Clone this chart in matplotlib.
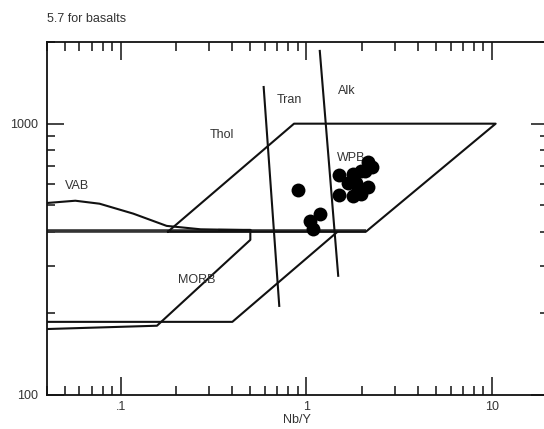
import matplotlib
matplotlib.use("Agg")
import matplotlib.pyplot as plt
from matplotlib.ticker import FixedLocator, FixedFormatter, LogLocator, NullFormatter

plt.rcParams["font.family"] = ["Liberation Sans", "DejaVu Sans"]
plt.rcParams["font.size"] = 9

# Nb/Y vs Ti/Y discrimination fields
wpb_x = [0.18, 0.86, 10.5, 2.1, 0.18]
wpb_y = [400, 1000, 1000, 400, 400]

base_x = [0.04, 2.1]
base_y = [402, 402]

vab_x = [0.04, 0.057, 0.077, 0.117, 0.177, 0.27, 0.5]
vab_y = [510, 520, 507, 466, 420, 408, 405]

morb_outer_x = [0.04, 0.157, 0.50, 0.50, 0.34]
morb_outer_y = [175, 180, 373, 406, 406]

morb_inner_x = [0.04, 0.40, 1.465]
morb_inner_y = [186, 186, 398]

thol_tran_x = [0.59, 0.716]
thol_tran_y = [1365, 213]

tran_alk_x = [1.184, 1.488]
tran_alk_y = [1854, 275]

# samples
nb_y = [0.908, 1.193, 1.048, 1.087, 1.511, 1.511, 1.786, 1.972, 2.165,
        2.262, 2.073, 1.865, 1.797, 1.985, 2.165, 1.912, 1.679]
ti_y = [571, 466, 439, 408, 646, 545, 654, 671, 724,
        694, 668, 603, 540, 550, 586, 580, 606]

field_labels = ["Tran", "Alk", "Thol", "VAB", "MORB", "WPB"]
label_x = [0.814, 1.658, 0.352, 0.0584, 0.257, 1.758]
label_y = [1219, 1324, 908, 587, 266, 747]

x_ticks = [0.1, 1, 10]
x_ticklabels = [".1", "1", "10"]
y_ticks = [100, 1000]
y_ticklabels = ["100", "1000"]

fig = plt.figure(figsize=(5.44, 4.29), dpi=100)
ax = fig.add_axes([0.086, 0.0793, 0.9206, 0.8228])
ax.set_xscale("log")
ax.set_yscale("log")
ax.set_xlim(0.04, 20)
ax.set_ylim(100, 2000)

lc = "#111111"
ax.plot(base_x, base_y, color="#333333", lw=2.6, solid_capstyle="butt")
ax.plot(wpb_x, wpb_y, color=lc, lw=1.5)
ax.plot(vab_x, vab_y, color=lc, lw=1.5)
ax.plot(morb_outer_x, morb_outer_y, color=lc, lw=1.5)
ax.plot(morb_inner_x, morb_inner_y, color=lc, lw=1.5)
ax.plot(thol_tran_x, thol_tran_y, color=lc, lw=1.5)
ax.plot(tran_alk_x, tran_alk_y, color=lc, lw=1.5)

for name, lx, ly in zip(field_labels, label_x, label_y):
    ax.text(lx, ly, name, ha="center", va="center", color="#333333", fontsize=9)

ax.scatter(nb_y, ti_y, s=100, color="black", zorder=5, linewidths=0)

ax.xaxis.set_major_locator(FixedLocator(x_ticks))
ax.xaxis.set_major_formatter(FixedFormatter(x_ticklabels))
ax.xaxis.set_minor_locator(LogLocator(base=10, subs=range(2, 10)))
ax.xaxis.set_minor_formatter(NullFormatter())
ax.yaxis.set_major_locator(FixedLocator(y_ticks))
ax.yaxis.set_major_formatter(FixedFormatter(y_ticklabels))
ax.yaxis.set_minor_locator(LogLocator(base=10, subs=range(2, 10)))
ax.yaxis.set_minor_formatter(NullFormatter())

ax.tick_params(axis="x", which="major", direction="in", length=13, width=1.1,
               top=True, pad=4, colors="#111111", labelcolor="#333333")
ax.tick_params(axis="x", which="minor", direction="in", length=6.5, width=1.1,
               top=True, colors="#111111")
ax.tick_params(axis="y", which="major", direction="in", length=12.5, width=1.1,
               right=True, pad=6, colors="#111111", labelcolor="#333333")
ax.tick_params(axis="y", which="minor", direction="in", length=6, width=1.1,
               right=True, colors="#111111")
for sp in ax.spines.values():
    sp.set_linewidth(1.3)
    sp.set_color("#111111")

ax.set_xlabel("Nb/Y", color="#333333", labelpad=1)
fig.text(0.086, 1 - 19 / 429, "5.7 for basalts", ha="left", va="center",
         color="#333333", fontsize=9)

fig.savefig("out.png", dpi=100)
